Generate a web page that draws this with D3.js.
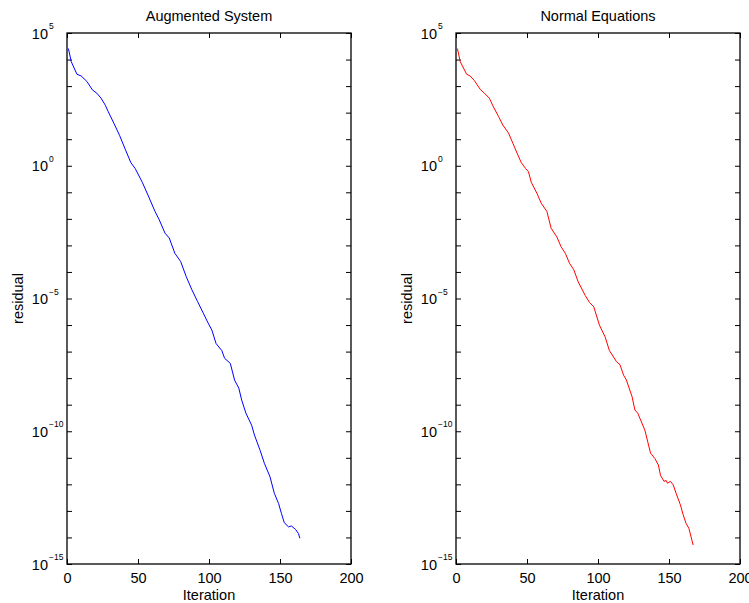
<!DOCTYPE html>
<html>
<head>
  <meta charset="utf-8">
  <script src="https://d3js.org/d3.v7.min.js"></script>
  <style>
    body { margin: 0; background: #fff; }
    text { font-family: "Liberation Sans", Arial, Helvetica, sans-serif; fill: #000; }
  </style>
</head>
<body>
  <div id="area"></div>

  <script type="text/javascript">
    // iterations and residuals
    var augIter = [1, 3, 7, 10, 14, 18, 21, 24, 27, 29, 33, 37, 41, 45, 48, 53, 57, 62, 65, 69,
                   72, 76, 80, 84, 88, 92, 96, 99, 102, 105, 109, 111, 115, 118, 121, 123, 126, 130, 132, 136,
                   139, 143, 146, 149, 151, 153, 156, 158, 161, 163, 164];
    var augResid = [2.6e4, 8.3e3, 2.8e3, 2.4e3, 1.5e3, 7.1e2, 5.4e2, 3.5e2, 1.9e2, 1.1e2, 4.0e1, 1.4e1, 4.2, 1.3, 7.9e-1,
                    2.4e-1, 7.9e-2, 1.9e-2, 9.1e-3, 2.9e-3, 1.9e-3, 5.0e-4, 2.5e-4, 6.6e-5, 2.1e-5, 7.6e-6, 2.8e-6,
                    1.3e-6, 6.5e-7, 2.0e-7, 1.1e-7, 5.6e-8, 3.6e-8, 8.5e-9, 4.2e-9, 1.5e-9, 4.8e-10, 1.7e-10, 7.2e-11,
                    1.9e-11, 6.2e-12, 1.9e-12, 4.6e-13, 1.9e-13, 8.1e-14, 3.6e-14, 2.5e-14, 2.7e-14, 2.0e-14, 1.4e-14, 9.3e-15];

    var normIter = [1, 3, 7.5, 10, 13, 17, 20, 23.5, 26, 30, 33, 37, 40, 43, 46, 49, 51, 53, 57, 60,
                    64, 67, 71, 74, 77, 80, 83, 86, 91, 94, 97, 101, 105, 108, 113, 115.5, 118, 120, 124, 126,
                    128, 133, 137, 140, 142.5, 144, 146.5, 148, 149, 151, 153, 155, 158, 160, 162, 164, 167];
    var normResid = [2.6e4, 8.3e3, 2.8e3, 2.4e3, 1.6e3, 7.6e2, 5.4e2, 3.5e2, 1.8e2, 7.1e1, 3.4e1, 1.7e1, 7.1, 3.0, 1.3,
                     7.9e-1, 6.0e-1, 2.4e-1, 9.1e-2, 3.9e-2, 1.9e-2, 4.4e-3, 2.1e-3, 8.9e-4, 5.0e-4, 2.1e-4, 1.2e-4,
                     4.3e-5, 1.3e-5, 7.1e-6, 4.9e-6, 1.0e-6, 3.6e-7, 1.1e-7, 4.2e-8, 3.2e-8, 1.3e-8, 8.5e-9, 2.0e-9,
                     6.3e-10, 4.8e-10, 1.1e-10, 1.5e-11, 9.5e-12, 5.4e-12, 2.2e-12, 1.3e-12, 1.4e-12, 1.1e-12, 1.3e-12,
                     9.5e-13, 4.6e-13, 1.7e-13, 7.1e-14, 3.4e-14, 2.2e-14, 5.2e-15];

    var xTicks = [0, 50, 100, 150, 200];
    var yLabelExps = [5, 0, -5, -10, -15];

    var width = 749, height = 603;
    var plotTop = 33, plotBottom = 564;

    var svg = d3.select("#area").append("svg")
      .attr("width", width)
      .attr("height", height);

    //one panel of the figure
    function drawPanel(left, right, title, iters, resid, color) {
      var x = d3.scaleLinear().domain([0, 200]).range([left, right]);
      var y = d3.scaleLog().domain([1e-15, 1e5]).range([plotBottom, plotTop]);
      var g = svg.append("g");

      var yTickVals = d3.range(-15, 6).map(function(e) { return Math.pow(10, e); });

      // ticks on all four sides, pointing in
      g.append("g").attr("transform", "translate(0," + plotBottom + ")")
        .call(d3.axisBottom(x).tickValues(xTicks).tickSizeInner(-5).tickSizeOuter(0).tickPadding(9))
        .call(function(a) {
          a.select(".domain").remove();
          a.selectAll("text").style("font-size", "14.5px").attr("font-family", null);
        });
      g.append("g").attr("transform", "translate(0," + plotTop + ")")
        .call(d3.axisTop(x).tickValues(xTicks).tickSizeInner(-5).tickSizeOuter(0).tickFormat(""))
        .call(function(a) { a.select(".domain").remove(); });
      g.append("g").attr("transform", "translate(" + left + ",0)")
        .call(d3.axisLeft(y).tickValues(yTickVals).tickSizeInner(-5).tickSizeOuter(0).tickFormat(""))
        .call(function(a) { a.select(".domain").remove(); });
      g.append("g").attr("transform", "translate(" + right + ",0)")
        .call(d3.axisRight(y).tickValues(yTickVals).tickSizeInner(-5).tickSizeOuter(0).tickFormat(""))
        .call(function(a) { a.select(".domain").remove(); });
      g.selectAll(".tick line").attr("stroke", "#000").attr("stroke-width", 1);

      g.append("rect")
        .attr("x", left).attr("y", plotTop)
        .attr("width", right - left).attr("height", plotBottom - plotTop)
        .attr("fill", "none").attr("stroke", "#000").attr("stroke-width", 1.3);

      // 10^n labels
      yLabelExps.forEach(function(e) {
        var yy = y(Math.pow(10, e));
        g.append("text").attr("x", left - 19).attr("y", yy + 5.5)
          .attr("text-anchor", "end").style("font-size", "14.5px").text("10");
        g.append("text").attr("x", left - 18).attr("y", yy - 4)
          .style("font-size", "8.5px").text(String(e).replace("-", "\u2212"));
      });

      var pts = iters.map(function(d, i) { return [d, resid[i]]; });
      var line = d3.line()
        .x(function(d) { return x(d[0]); })
        .y(function(d) { return y(d[1]); });
      g.append("path").datum(pts)
        .attr("d", line)
        .attr("fill", "none")
        .attr("stroke", color)
        .attr("stroke-width", 1);

      g.append("text").attr("x", (left + right) / 2).attr("y", 21)
        .attr("text-anchor", "middle").style("font-size", "14.5px").text(title);
      g.append("text").attr("x", (left + right) / 2).attr("y", 600)
        .attr("text-anchor", "middle").style("font-size", "14.5px").text("Iteration");
      g.append("text")
        .attr("transform", "translate(" + (left - 44) + "," + ((plotTop + plotBottom) / 2) + ") rotate(-90)")
        .attr("text-anchor", "middle").style("font-size", "14.5px").text("residual");
    }

    drawPanel(67, 351, "Augmented System", augIter, augResid, "#0000ff");
    drawPanel(456, 740, "Normal Equations", normIter, normResid, "#ff0000");
  </script>
</body>
</html>
